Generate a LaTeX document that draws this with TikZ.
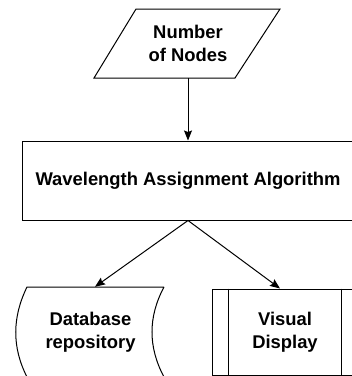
\documentclass[tikz,border=0pt]{standalone}
\usepackage{fontspec}
\setmainfont{Liberation Sans}
\usetikzlibrary{arrows.meta,calc}
\begin{document}
\begin{tikzpicture}[x=1pt,y=-1pt,
  shapeline/.style={draw=black,line width=1pt},
  lbl/.style={font=\fontsize{18.4}{22.5}\selectfont\bfseries,align=center,inner sep=0pt},
  conn/.style={draw=black,line width=1pt,-{Stealth[inset=1.5pt,length=10pt,width=8pt]}}]
\useasboundingbox (0,0) rectangle (352,376);
% input parallelogram
\draw[shapeline] (94,78) -- (136,9) -- (280,9) -- (235,78) -- cycle;
\node[lbl,minimum width=142pt,minimum height=69pt] (nn) at (188,43.5) {Number\\of Nodes};
% process box
\node[lbl,shapeline,minimum width=332pt,minimum height=79pt] (wa) at (188,180.5) {Wavelength Assignment Algorithm};
% stored data
\draw[shapeline] (164,287) -- (27,287)
  .. controls (12.3,317) and (11.7,347) .. (27,377) -- (164,377)
  .. controls (148,347) and (148,317) .. (164,287);
\node[lbl,minimum width=140pt,minimum height=90pt] (db) at (90.5,332) {Database\\repository};
% predefined process
\node[lbl,shapeline,minimum width=146pt,minimum height=86pt] (vd) at (285,332) {Visual\\Display};
\draw[shapeline] ($(vd.north west)+(17,0)$) -- ($(vd.south west)+(17,0)$);
\draw[shapeline] ($(vd.north east)+(-17,0)$) -- ($(vd.south east)+(-17,0)$);
% connectors
\draw[conn] (nn.south) -- (wa.north);
\draw[conn] (wa.south) -- ($(db.north)+(4.5,0)$);
\draw[conn] (wa.south) -- ($(vd.north)+(-5,0)$);
\end{tikzpicture}
\end{document}
